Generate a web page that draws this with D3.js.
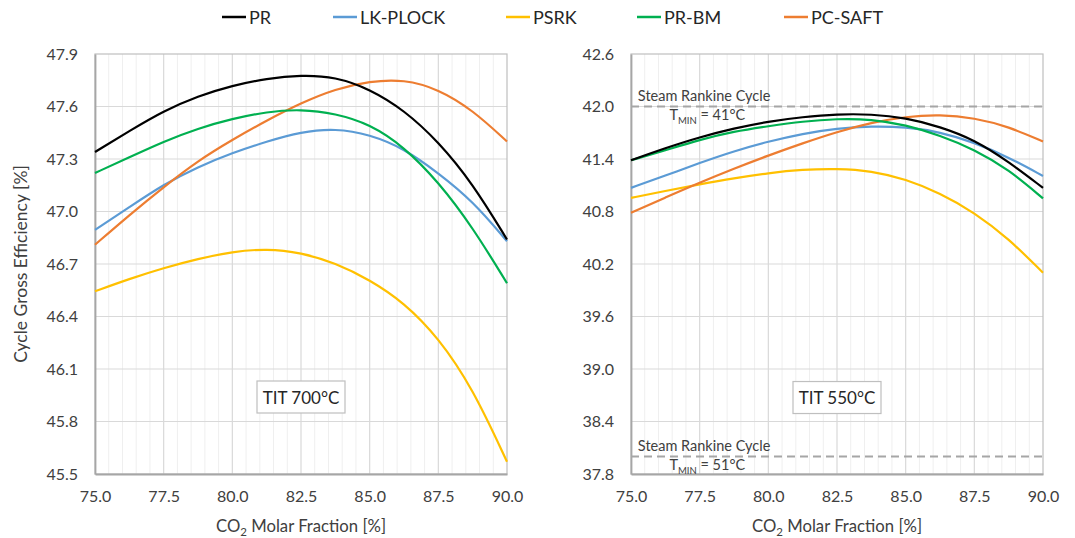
<!DOCTYPE html>
<html>
<head>
<meta charset="utf-8">
<script src="https://cdn.jsdelivr.net/npm/d3@7"></script>
<style>
  body { margin: 0; background: #fff; }
  svg { font-family: Lato, 'Open Sans', sans-serif; }
</style>
</head>
<body>
<div id="chart"></div>
<script>
const w = 1075
const h = 538

// CO2 molar fraction samples [%]
const molarFraction = [75, 76.25, 77.5, 78.75, 80, 81.25, 82.5, 83.75, 85, 86.25, 87.5, 88.75, 90]
const xTicks = [75, 77.5, 80, 82.5, 85, 87.5, 90]

const seriesNames = ['PR', 'LK-PLOCK', 'PSRK', 'PR-BM', 'PC-SAFT']
const seriesColors = ['#000000', '#5b9bd5', '#ffc000', '#00b050', '#ed7d31']

// TIT 700 C
const pr700 = [47.34, 47.46, 47.575, 47.66, 47.72, 47.76, 47.78, 47.77, 47.70, 47.58, 47.40, 47.16, 46.84]
const lkplock700 = [46.895, 47.025, 47.155, 47.255, 47.335, 47.40, 47.455, 47.475, 47.44, 47.36, 47.22, 47.06, 46.83]
const psrk700 = [46.544, 46.615, 46.677, 46.73, 46.77, 46.788, 46.765, 46.706, 46.61, 46.48, 46.28, 45.99, 45.57]
const prbm700 = [47.22, 47.31, 47.40, 47.475, 47.53, 47.57, 47.585, 47.56, 47.50, 47.37, 47.17, 46.91, 46.59]
const pcsaft700 = [46.81, 46.98, 47.14, 47.29, 47.41, 47.52, 47.62, 47.70, 47.745, 47.755, 47.70, 47.58, 47.40]
const yTicks700 = [45.5, 45.8, 46.1, 46.4, 46.7, 47.0, 47.3, 47.6, 47.9]

// TIT 550 C
const pr550 = [41.385, 41.525, 41.65, 41.75, 41.83, 41.88, 41.913, 41.913, 41.87, 41.77, 41.62, 41.37, 41.07]
const lkplock550 = [41.07, 41.21, 41.355, 41.49, 41.60, 41.69, 41.75, 41.775, 41.765, 41.71, 41.59, 41.42, 41.206]
const psrk550 = [40.955, 41.035, 41.11, 41.18, 41.24, 41.28, 41.29, 41.265, 41.17, 41.01, 40.79, 40.49, 40.10]
const prbm550 = [41.385, 41.50, 41.62, 41.715, 41.775, 41.83, 41.86, 41.855, 41.79, 41.67, 41.51, 41.28, 40.95]
const pcsaft550 = [40.785, 40.96, 41.13, 41.29, 41.44, 41.58, 41.71, 41.815, 41.885, 41.91, 41.87, 41.77, 41.60]
const yTicks550 = [37.8, 38.4, 39.0, 39.6, 40.2, 40.8, 41.4, 42.0, 42.6]

// steam Rankine reference lines
const rankineLevels = [42.0, 38.0]
const rankineTmin = ['41°C', '51°C']

const svg = d3.select('#chart')
    .append('svg')
    .attr('width', w)
    .attr('height', h)

const plotTop = 54
const plotBottom = 474

const panels = [
    {
        x0: 95, x1: 507,
        yTicks: yTicks700,
        series: [pr700, lkplock700, psrk700, prbm700, pcsaft700],
        label: 'TIT 700°C',
        labelY: 45.94,
        rankine: false
    },
    {
        x0: 631, x1: 1043,
        yTicks: yTicks550,
        series: [pr550, lkplock550, psrk550, prbm550, pcsaft550],
        label: 'TIT 550°C',
        labelY: 38.674,
        rankine: true
    }
]

panels.forEach(p => {
    const xScale = d3.scaleLinear()
        .domain([75, 90])
        .range([p.x0, p.x1])

    const yScale = d3.scaleLinear()
        .domain([p.yTicks[0], p.yTicks[p.yTicks.length - 1]])
        .range([plotBottom, plotTop])

    const g = svg.append('g')

    // minor vertical grid every 0.5
    g.append('g')
        .selectAll('line')
        .data(d3.range(75.5, 90, 0.5).filter(v => Math.abs(v / 2.5 - Math.round(v / 2.5)) > 1e-6))
        .enter()
        .append('line')
        .attr('x1', d => xScale(d)).attr('x2', d => xScale(d))
        .attr('y1', plotTop).attr('y2', plotBottom)
        .attr('stroke', '#efefef')
        .attr('stroke-width', 1)

    // major grid
    g.append('g')
        .selectAll('line')
        .data(xTicks.slice(1, -1))
        .enter()
        .append('line')
        .attr('x1', d => xScale(d)).attr('x2', d => xScale(d))
        .attr('y1', plotTop).attr('y2', plotBottom)
        .attr('stroke', '#d9d9d9')
        .attr('stroke-width', 1.2)

    g.append('g')
        .selectAll('line')
        .data(p.yTicks.slice(1, -1))
        .enter()
        .append('line')
        .attr('x1', p.x0).attr('x2', p.x1)
        .attr('y1', d => yScale(d)).attr('y2', d => yScale(d))
        .attr('stroke', '#d9d9d9')
        .attr('stroke-width', 1.2)

    // plot border
    g.append('rect')
        .attr('x', p.x0).attr('y', plotTop)
        .attr('width', p.x1 - p.x0).attr('height', plotBottom - plotTop)
        .attr('fill', 'none')
        .attr('stroke', '#bfbfbf')
        .attr('stroke-width', 1.2)

    // axes
    const xAxis = d3.axisBottom(xScale)
        .tickValues(xTicks)
        .tickSize(0)
        .tickPadding(17)
        .tickFormat(d3.format('.1f'))

    const yAxis = d3.axisLeft(yScale)
        .tickValues(p.yTicks)
        .tickSize(0)
        .tickPadding(17)
        .tickFormat(d3.format('.1f'))

    g.append('g')
        .attr('transform', 'translate(0,' + plotBottom + ')')
        .call(xAxis)
        .call(a => a.select('.domain').attr('stroke', '#a6a6a6').attr('stroke-width', 1.8))

    g.append('g')
        .attr('transform', 'translate(' + p.x0 + ',0)')
        .call(yAxis)
        .call(a => a.select('.domain').attr('stroke', '#a6a6a6').attr('stroke-width', 1.8))

    g.selectAll('.tick text')
        .attr('font-family', 'Lato, sans-serif')
        .attr('font-size', 16)
        .attr('fill', '#404040')

    // Rankine reference
    if (p.rankine) {
        rankineLevels.forEach((lv, i) => {
            g.append('line')
                .attr('x1', p.x0).attr('x2', p.x1)
                .attr('y1', yScale(lv)).attr('y2', yScale(lv))
                .attr('stroke', '#a6a6a6')
                .attr('stroke-width', 2)
                .attr('stroke-dasharray', '8,5')

            g.append('text')
                .attr('x', xScale(75.25))
                .attr('y', yScale(lv) - 6)
                .attr('font-size', 14.5)
                .attr('fill', '#404040')
                .text('Steam Rankine Cycle')

            const t = g.append('text')
                .attr('x', xScale(76.4))
                .attr('y', yScale(lv) + 13)
                .attr('font-size', 14.5)
                .attr('fill', '#404040')
            t.append('tspan').text('T')
            t.append('tspan').attr('font-size', 9.5).attr('dy', 4).text('MIN')
            t.append('tspan').attr('dy', -4).text(' = ' + rankineTmin[i])
        })
    }

    // series lines
    const line = d3.line()
        .x((d, i) => xScale(molarFraction[i]))
        .y(d => yScale(d))
        .curve(d3.curveBasis)

    // draw order: yellow, blue, orange, green, black on top
    const order = [2, 1, 4, 3, 0]
    g.append('g')
        .selectAll('path')
        .data(order)
        .enter()
        .append('path')
        .attr('d', k => line(p.series[k]))
        .attr('fill', 'none')
        .attr('stroke', k => seriesColors[k])
        .attr('stroke-width', 2.2)

    // TIT label box
    const cx = xScale(82.5)
    const cy = yScale(p.labelY)
    g.append('rect')
        .attr('x', cx - 44).attr('y', cy - 16)
        .attr('width', 88).attr('height', 32)
        .attr('fill', '#fff')
        .attr('stroke', '#bfbfbf')
        .attr('stroke-width', 1.2)
    g.append('text')
        .attr('x', cx).attr('y', cy)
        .attr('text-anchor', 'middle')
        .attr('dominant-baseline', 'central')
        .attr('font-size', 17)
        .attr('fill', '#262626')
        .text(p.label)

    // x title
    const xt = g.append('text')
        .attr('x', (p.x0 + p.x1) / 2)
        .attr('y', 532)
        .attr('text-anchor', 'middle')
        .attr('font-size', 16.7)
        .attr('fill', '#404040')
    xt.append('tspan').text('CO')
    xt.append('tspan').attr('font-size', 11.5).attr('dy', 4).text('2')
    xt.append('tspan').attr('dy', -4).text(' Molar Fraction [%]')
})

// y title
svg.append('text')
    .attr('transform', 'translate(20,' + (plotTop + plotBottom) / 2 + ') rotate(-90)')
    .attr('text-anchor', 'middle')
    .attr('dominant-baseline', 'central')
    .attr('font-size', 17.5)
    .attr('fill', '#404040')
    .text('Cycle Gross Efficiency [%]')

// legend
const legendX = [222, 333, 506, 637, 784]
const legend = svg.append('g')
    .selectAll('g')
    .data(seriesNames)
    .enter()
    .append('g')
    .attr('transform', (d, i) => 'translate(' + legendX[i] + ',17)')

legend.append('line')
    .attr('x1', 0).attr('x2', 24)
    .attr('stroke', (d, i) => seriesColors[i])
    .attr('stroke-width', 2.5)

legend.append('text')
    .attr('x', 27)
    .attr('dominant-baseline', 'central')
    .attr('font-size', 18)
    .attr('fill', '#262626')
    .text(d => d)
</script>
</body>
</html>
